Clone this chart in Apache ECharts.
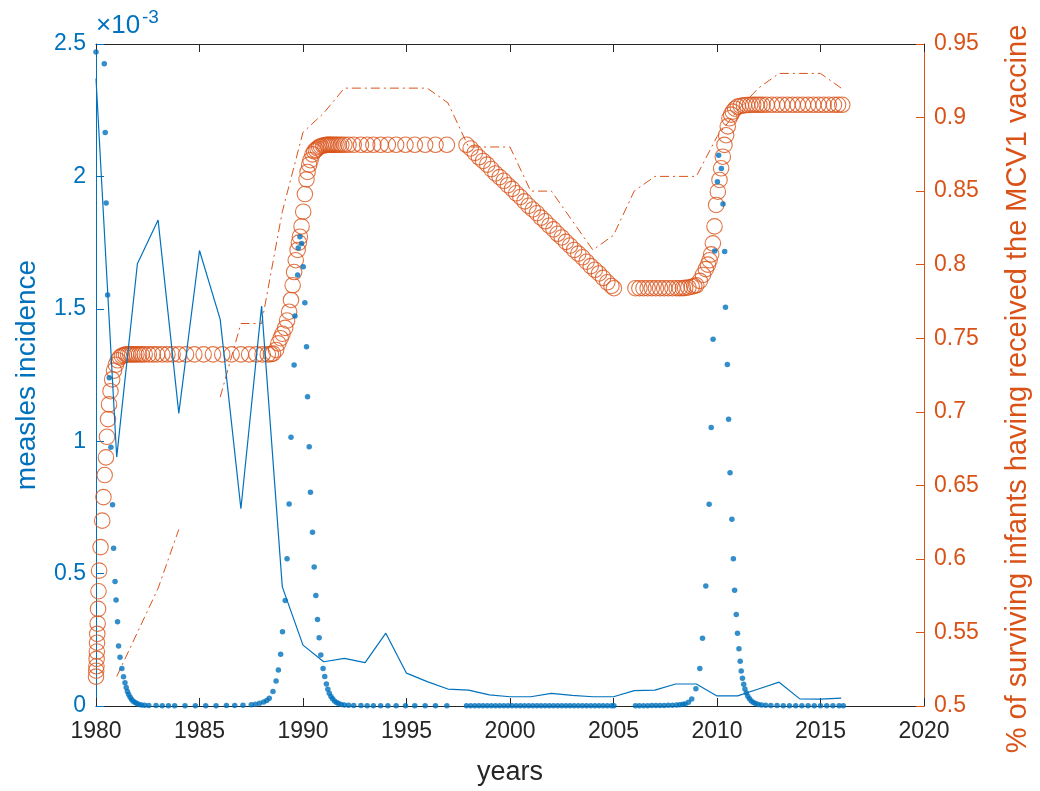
<!DOCTYPE html>
<html>
<head>
<meta charset="utf-8">
<script src="https://cdn.jsdelivr.net/npm/echarts@6/dist/echarts.min.js"></script>
<style>
  html, body { margin: 0; padding: 0; background: #fff; }
  #chart { width: 1040px; height: 791px; }
</style>
</head>
<body>
<div id="chart"></div>
<script>
// reported data, one value per year (incidence in units of 1e-3)
const dataYears = [1980, 1981, 1982, 1983, 1984, 1985, 1986, 1987, 1988, 1989,
  1990, 1991, 1992, 1993, 1994, 1995, 1996, 1997, 1998, 1999,
  2000, 2001, 2002, 2003, 2004, 2005, 2006, 2007, 2008, 2009,
  2010, 2011, 2012, 2013, 2014, 2015, 2016];
const incidenceData = [2.37, 0.94, 1.67, 1.835, 1.105, 1.72, 1.46, 0.745, 1.51, 0.45,
  0.23, 0.167, 0.18, 0.164, 0.275, 0.124, 0.092, 0.064, 0.06, 0.042,
  0.035, 0.035, 0.048, 0.04, 0.035, 0.035, 0.058, 0.06, 0.083, 0.083,
  0.038, 0.038, 0.064, 0.09, 0.027, 0.026, 0.03];
const coverageData = [null, 0.52, 0.55, 0.58, 0.62, null, 0.71, 0.76, 0.76, 0.836,
  0.89, 0.903, 0.92, 0.92, 0.92, 0.92, 0.92, 0.91, 0.88, 0.88,
  0.88, 0.85, 0.85, 0.83, 0.81, 0.82, 0.85, 0.86, 0.86, 0.86,
  0.887, 0.905, 0.92, 0.93, 0.93, 0.93, 0.92];

// model output (solver time steps), incidence in units of 1e-3
const modelDotYears = [
  1980.00, 1980.40, 1980.445, 1980.49, 1980.56, 1980.64, 1980.72, 1980.80,
  1980.85, 1980.92, 1980.97, 1981.04, 1981.09, 1981.16, 1981.25, 1981.33, 1981.40, 1981.46,
  1981.52, 1981.58, 1981.65, 1981.72, 1981.80, 1981.89, 1981.98, 1982.08, 1982.20, 1982.35,
  1982.55, 1982.90, 1983.20, 1983.50, 1983.80, 1984.30, 1984.80, 1985.30, 1985.80, 1986.30,
  1986.70, 1987.10, 1987.50, 1987.70, 1987.90, 1988.10, 1988.25, 1988.37, 1988.55, 1988.70,
  1988.81, 1988.92, 1989.01, 1989.14, 1989.23, 1989.33, 1989.42, 1989.57, 1989.61, 1989.74,
  1989.77, 1989.85, 1989.93, 1990.01, 1990.09, 1990.17, 1990.22, 1990.30, 1990.36, 1990.46,
  1990.54, 1990.62, 1990.70, 1990.78, 1990.86, 1990.97, 1991.05, 1991.13, 1991.20, 1991.27,
  1991.35, 1991.43, 1991.52, 1991.62, 1991.72, 1991.85, 1992.00, 1992.20, 1992.45, 1992.80,
  1993.10, 1993.40, 1993.75, 1994.10, 1994.50, 1994.95, 1995.40, 1995.90, 1996.40, 1996.95,
  1997.90, 1998.10, 1998.30, 1998.50, 1998.70, 1998.90, 1999.10, 1999.30, 1999.50, 1999.70,
  1999.90, 2000.10, 2000.30, 2000.50, 2000.70, 2000.90, 2001.10, 2001.30, 2001.50, 2001.70,
  2001.90, 2002.10, 2002.30, 2002.50, 2002.70, 2002.90, 2003.10, 2003.30, 2003.50, 2003.70,
  2003.90, 2004.10, 2004.30, 2004.50, 2004.70, 2004.90, 2005.02, 2006.06, 2006.25, 2006.45,
  2006.65, 2006.85, 2007.05, 2007.25, 2007.45, 2007.65, 2007.85, 2008.05, 2008.20, 2008.35,
  2008.46, 2008.62, 2008.78, 2008.98, 2009.17, 2009.30, 2009.46, 2009.62, 2009.72, 2009.81,
  2009.89, 2010.02, 2010.08, 2010.21, 2010.29, 2010.37, 2010.41, 2010.50, 2010.56, 2010.63,
  2010.72, 2010.79, 2010.85, 2010.93, 2010.99, 2011.06, 2011.12, 2011.17, 2011.23, 2011.29,
  2011.35, 2011.42, 2011.49, 2011.57, 2011.66, 2011.76, 2011.87, 2012.00, 2012.15, 2012.35,
  2012.60, 2012.90, 2013.20, 2013.50, 2013.80, 2014.10, 2014.40, 2014.70, 2015.00, 2015.30,
  2015.60, 2015.90, 2016.10];
const modelDotValues = [
  2.47, 2.425, 2.166, 1.90, 1.552, 1.24, 0.977, 0.76,
  0.596, 0.47, 0.40, 0.318, 0.227, 0.184, 0.142, 0.11, 0.088, 0.07,
  0.055, 0.043, 0.033, 0.025, 0.018, 0.013, 0.009, 0.006, 0.004, 0.003,
  0.002, 0.0015, 0.001, 0.001, 0.001, 0.001, 0.001, 0.001, 0.001, 0.0015,
  0.002, 0.003, 0.005, 0.007, 0.010, 0.015, 0.021, 0.029, 0.055, 0.094,
  0.136, 0.195, 0.28, 0.398, 0.556, 0.763, 1.015, 1.288, 1.473, 1.628,
  1.73, 1.772, 1.747, 1.659, 1.523, 1.357, 1.168, 0.979, 0.807, 0.656,
  0.525, 0.417, 0.327, 0.258, 0.193, 0.142, 0.111, 0.083, 0.063, 0.048,
  0.036, 0.027, 0.019, 0.013, 0.009, 0.006, 0.004, 0.003, 0.002, 0.0015,
  0.001, 0.001, 0.001, 0.001, 0.001, 0.001, 0.001, 0.001, 0.001, 0.001,
  0.001, 0.001, 0.001, 0.001, 0.001, 0.001, 0.001, 0.001, 0.001, 0.001,
  0.001, 0.001, 0.001, 0.001, 0.001, 0.001, 0.001, 0.001, 0.001, 0.001,
  0.001, 0.001, 0.001, 0.001, 0.001, 0.001, 0.001, 0.001, 0.001, 0.001,
  0.001, 0.001, 0.001, 0.001, 0.001, 0.001, 0.001, 0.0012, 0.0012, 0.0013,
  0.0014, 0.0015, 0.0017, 0.002, 0.0023, 0.0027, 0.0033, 0.004, 0.005, 0.0065,
  0.008, 0.014, 0.026, 0.065, 0.142, 0.256, 0.453, 0.762, 1.052, 1.385,
  1.718, 1.98, 2.08, 2.03, 1.896, 1.716, 1.506, 1.29, 1.083, 0.881,
  0.705, 0.556, 0.437, 0.346, 0.275, 0.216, 0.169, 0.132, 0.105, 0.082,
  0.064, 0.049, 0.037, 0.027, 0.019, 0.013, 0.009, 0.006, 0.004, 0.003,
  0.002, 0.0015, 0.001, 0.001, 0.001, 0.001, 0.001, 0.001, 0.001, 0.001,
  0.001, 0.001, 0.001];

// model output, vaccine coverage
const modelRingYears = [
  1980.00, 1980.01, 1980.02, 1980.03, 1980.04, 1980.05, 1980.06, 1980.08, 1980.10, 1980.12,
  1980.15, 1980.22, 1980.30, 1980.36, 1980.42, 1980.48, 1980.53, 1980.58, 1980.63, 1980.70,
  1980.78, 1980.87, 1980.96, 1981.05, 1981.15, 1981.25, 1981.35, 1981.45, 1981.55, 1981.65,
  1981.75, 1981.85, 1981.95, 1982.08, 1982.20, 1982.35, 1982.55, 1982.75, 1982.95, 1983.20,
  1983.45, 1983.70, 1984.00, 1984.35, 1984.75, 1985.20, 1985.65, 1986.10, 1986.55, 1987.00,
  1987.40, 1987.75, 1988.05, 1988.30, 1988.45, 1988.55, 1988.70, 1988.81, 1988.92, 1989.01,
  1989.14, 1989.23, 1989.33, 1989.42, 1989.50, 1989.57, 1989.65, 1989.74, 1989.80, 1989.85,
  1989.93, 1990.01, 1990.09, 1990.17, 1990.22, 1990.30, 1990.36, 1990.46, 1990.54, 1990.62,
  1990.70, 1990.78, 1990.86, 1990.97, 1991.05, 1991.13, 1991.20, 1991.27, 1991.35, 1991.43,
  1991.52, 1991.62, 1991.72, 1991.85, 1992.00, 1992.20, 1992.45, 1992.80, 1993.10, 1993.40,
  1993.75, 1994.10, 1994.50, 1994.95, 1995.40, 1995.90, 1996.40, 1996.95, 1997.90, 1998.10,
  1998.30, 1998.50, 1998.70, 1998.90, 1999.10, 1999.30, 1999.50, 1999.70, 1999.90, 2000.10,
  2000.30, 2000.50, 2000.70, 2000.90, 2001.10, 2001.30, 2001.50, 2001.70, 2001.90, 2002.10,
  2002.30, 2002.50, 2002.70, 2002.90, 2003.10, 2003.30, 2003.50, 2003.70, 2003.90, 2004.10,
  2004.30, 2004.50, 2004.70, 2004.90, 2005.02, 2006.06, 2006.25, 2006.45, 2006.65, 2006.85,
  2007.05, 2007.25, 2007.45, 2007.65, 2007.85, 2008.05, 2008.20, 2008.35, 2008.46, 2008.62,
  2008.78, 2008.90, 2009.00, 2009.17, 2009.32, 2009.46, 2009.56, 2009.64, 2009.72, 2009.80,
  2009.88, 2009.96, 2010.04, 2010.12, 2010.20, 2010.28, 2010.36, 2010.44, 2010.52, 2010.60,
  2010.68, 2010.76, 2010.88, 2011.00, 2011.15, 2011.30, 2011.45, 2011.60, 2011.75, 2011.90,
  2012.05, 2012.20, 2012.40, 2012.65, 2012.90, 2013.15, 2013.40, 2013.65, 2013.90, 2014.15,
  2014.40, 2014.65, 2014.90, 2015.15, 2015.40, 2015.65, 2015.85, 2016.05];
const modelRingValues = [
  0.520, 0.524, 0.527, 0.532, 0.537, 0.543, 0.549, 0.556, 0.566, 0.578,
  0.592, 0.608, 0.626, 0.642, 0.657, 0.669, 0.683, 0.695, 0.705, 0.714,
  0.722, 0.728, 0.732, 0.735, 0.737, 0.738, 0.7385, 0.739, 0.739, 0.739,
  0.739, 0.739, 0.739, 0.739, 0.739, 0.739, 0.739, 0.739, 0.739, 0.739,
  0.739, 0.739, 0.739, 0.739, 0.739, 0.739, 0.739, 0.739, 0.739, 0.739,
  0.739, 0.739, 0.739, 0.739, 0.7392, 0.7395, 0.742, 0.7465, 0.750, 0.753,
  0.757, 0.762, 0.768, 0.776, 0.786, 0.795, 0.803, 0.810, 0.815, 0.819,
  0.826, 0.836, 0.848, 0.858, 0.863, 0.868, 0.871, 0.875, 0.877, 0.878,
  0.879, 0.880, 0.8805, 0.881, 0.8812, 0.8814, 0.8815, 0.8815, 0.8815, 0.8815,
  0.8815, 0.8815, 0.8815, 0.8815, 0.8815, 0.8815, 0.8815, 0.8815, 0.8815, 0.8815,
  0.8815, 0.8815, 0.8815, 0.8815, 0.8815, 0.8815, 0.8815, 0.8815, 0.8815, 0.879,
  0.876, 0.873, 0.8705, 0.868, 0.865, 0.862, 0.8595, 0.857, 0.854, 0.8515,
  0.8485, 0.846, 0.843, 0.840, 0.8375, 0.835, 0.832, 0.8295, 0.8265, 0.824,
  0.821, 0.8185, 0.8155, 0.813, 0.810, 0.8075, 0.805, 0.802, 0.799, 0.7965,
  0.794, 0.791, 0.788, 0.7855, 0.784, 0.784, 0.784, 0.784, 0.784, 0.784,
  0.784, 0.784, 0.784, 0.784, 0.784, 0.784, 0.784, 0.784, 0.7842, 0.7845,
  0.785, 0.7855, 0.786, 0.789, 0.793, 0.797, 0.800, 0.803, 0.807, 0.8145,
  0.826, 0.8406, 0.8496, 0.8576, 0.8655, 0.8734, 0.8814, 0.888, 0.894, 0.8995,
  0.902, 0.904, 0.906, 0.9074, 0.908, 0.9083, 0.9085, 0.9086, 0.9087, 0.9087,
  0.9087, 0.9087, 0.9087, 0.9087, 0.9087, 0.9087, 0.9087, 0.9087, 0.9087, 0.9087,
  0.9087, 0.9087, 0.9087, 0.9087, 0.9087, 0.9087, 0.9087, 0.9087];

const BLUE = '#0072BD';
const ORANGE = '#D95319';
const INK = '#262626';
const FONT = '"Liberation Sans", Arial, sans-serif';

const pairs = (xs, ys) => xs.map((x, i) => [x, ys[i] == null ? '-' : ys[i]]);

const chart = echarts.init(document.getElementById('chart'));

chart.setOption({
  animation: false,
  grid: { left: 96, right: 109, top: 44, bottom: 85 },
  graphic: [
    { type: 'text', left: 96, top: 13, style: { text: '×10', fill: BLUE, font: '26px "Liberation Sans"' } },
    { type: 'text', left: 142, top: 8, style: { text: '-3', fill: BLUE, font: '19px "Liberation Sans"' } }
  ],
  xAxis: [
    {
      type: 'value', min: 1980, max: 2020, interval: 5,
      name: 'years', nameLocation: 'middle', nameGap: 53,
      nameTextStyle: { color: INK, fontSize: 27, fontFamily: FONT },
      axisLine: { onZero: false, lineStyle: { color: INK, width: 1 } },
      axisTick: { inside: true, length: 8, lineStyle: { color: INK } },
      axisLabel: { color: INK, fontSize: 23, fontFamily: FONT, margin: 14, formatter: (v) => String(v) },
      splitLine: { show: false }
    },
    {
      // top edge of the box
      type: 'value', position: 'top', min: 1980, max: 2020, interval: 5,
      axisLine: { onZero: false, lineStyle: { color: INK, width: 1 } },
      axisTick: { inside: true, length: 8, lineStyle: { color: INK } },
      axisLabel: { show: false },
      splitLine: { show: false }
    }
  ],
  yAxis: [
    {
      type: 'value', position: 'left', min: 0, max: 2.5, interval: 0.5,
      name: 'measles incidence', nameLocation: 'middle', nameGap: 55, nameRotate: 90,
      nameTextStyle: { color: BLUE, fontSize: 28, fontFamily: FONT },
      axisLine: { show: true, onZero: false, lineStyle: { color: BLUE, width: 1 } },
      axisTick: { show: true, inside: true, length: 8, lineStyle: { color: BLUE } },
      axisLabel: { color: BLUE, fontSize: 23, fontFamily: FONT, margin: 10 },
      splitLine: { show: false }
    },
    {
      type: 'value', position: 'right', min: 0.5, max: 0.95, interval: 0.05,
      name: '% of surviving infants having received the MCV1 vaccine',
      nameLocation: 'middle', nameGap: 79, nameRotate: 90,
      nameTextStyle: { color: ORANGE, fontSize: 29, fontFamily: FONT, padding: [0, 28, 0, 0] },
      axisLine: { show: true, onZero: false, lineStyle: { color: ORANGE, width: 1 } },
      axisTick: { show: true, inside: true, length: 8, lineStyle: { color: ORANGE } },
      axisLabel: { color: ORANGE, fontSize: 23, fontFamily: FONT, margin: 10 },
      splitLine: { show: false }
    }
  ],
  series: [
    {
      name: 'coverage data', type: 'line', yAxisIndex: 1,
      data: pairs(dataYears, coverageData),
      symbol: 'none', connectNulls: false, silent: true, z: 2,
      lineStyle: { color: ORANGE, width: 1, type: [9, 4, 2, 4] }
    },
    {
      name: 'coverage model', type: 'scatter', yAxisIndex: 1,
      data: pairs(modelRingYears, modelRingValues),
      symbol: 'circle', symbolSize: 15.5, silent: true, z: 3,
      itemStyle: { color: 'rgba(0,0,0,0)', borderColor: ORANGE, borderWidth: 1.1 }
    },
    {
      name: 'incidence data', type: 'line', yAxisIndex: 0,
      data: pairs(dataYears, incidenceData),
      symbol: 'none', silent: true, z: 4,
      lineStyle: { color: BLUE, width: 1.2 }
    },
    {
      name: 'incidence model', type: 'scatter', yAxisIndex: 0,
      data: pairs(modelDotYears, modelDotValues),
      symbol: 'circle', symbolSize: 5.5, silent: true, z: 5,
      itemStyle: { color: BLUE }
    }
  ]
});
</script>
</body>
</html>
